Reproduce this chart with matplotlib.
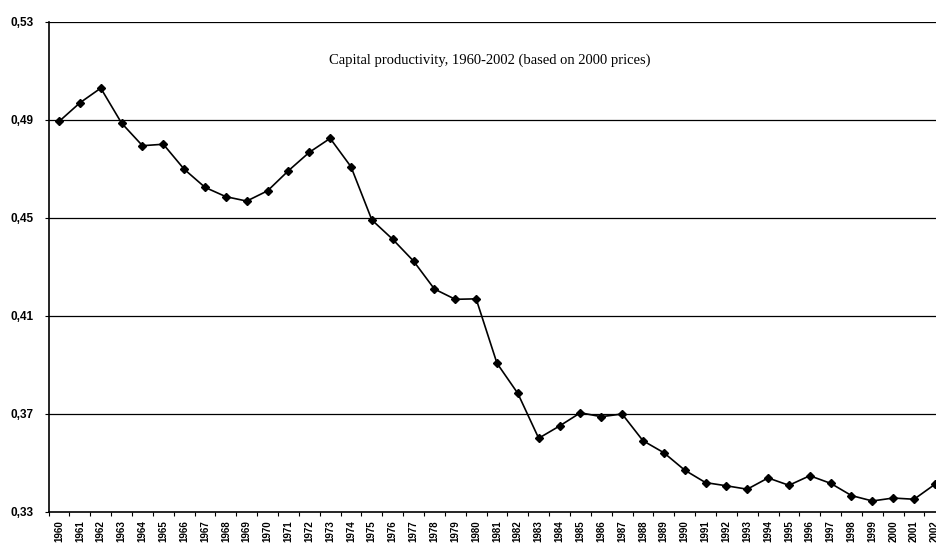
import numpy as np
import matplotlib.pyplot as plt
from matplotlib.ticker import FixedLocator, NullFormatter

# ---- Data ----
years = [str(y) for y in range(1960, 2003)]
productivity = [
    0.4894, 0.4970, 0.5030, 0.4887, 0.4795, 0.4801, 0.4699, 0.4625, 0.4587, 0.4569,
    0.4611, 0.4693, 0.4768, 0.4825, 0.4709, 0.4492, 0.4413, 0.4324, 0.4210, 0.4168,
    0.4170, 0.3907, 0.3784, 0.3601, 0.3651, 0.3705, 0.3689, 0.3700, 0.3591, 0.3542,
    0.3471, 0.3420, 0.3407, 0.3393, 0.3439, 0.3409, 0.3448, 0.3417, 0.3367, 0.3345,
    0.3357, 0.3352, 0.3413,
]
yticks = [0.33, 0.37, 0.41, 0.45, 0.49, 0.53]
ytick_labels = ["0,33", "0,37", "0,41", "0,45", "0,49", "0,53"]
title = "Capital productivity, 1960-2002 (based on 2000 prices)"

# ---- Plot ----
fig = plt.figure(figsize=(9.37, 5.48), dpi=100)
ax = fig.add_axes([0.0519, 0.0657, 0.9481, 0.8942])

x = np.arange(len(years))
ax.plot(x, productivity, color="black", linewidth=1.2, marker="D", markersize=4.5)

ax.set_ylim(0.33, 0.53)
ax.set_xlim(-0.5, 42.1)

# horizontal grid lines
for v in yticks[1:]:
    ax.axhline(v, color="black", linewidth=0.9, zorder=0)

ax.set_yticks(yticks)
ax.set_yticklabels(ytick_labels, fontsize=8.5, fontweight="bold", family="Liberation Sans")
ax.tick_params(axis="y", length=3, width=0.8, pad=8)

# category labels at centres, tick marks at boundaries
ax.set_xticks(x)
ax.set_xticklabels(years, rotation=90, fontsize=7, fontweight="bold", family="Liberation Sans")
ax.tick_params(axis="x", which="major", length=0, pad=6)
ax.xaxis.set_minor_locator(FixedLocator(np.arange(-0.5, 43, 1)))
ax.xaxis.set_minor_formatter(NullFormatter())
ax.tick_params(axis="x", which="minor", length=3, width=0.8)

for s in ["top", "right"]:
    ax.spines[s].set_visible(False)
ax.spines["left"].set_linewidth(1.2)
ax.spines["bottom"].set_linewidth(1.2)

ax.text(0.497, 0.922, title, transform=ax.transAxes, ha="center", va="center",
        fontsize=10.5, family="Liberation Serif")

fig.savefig("out.png", dpi=100)
